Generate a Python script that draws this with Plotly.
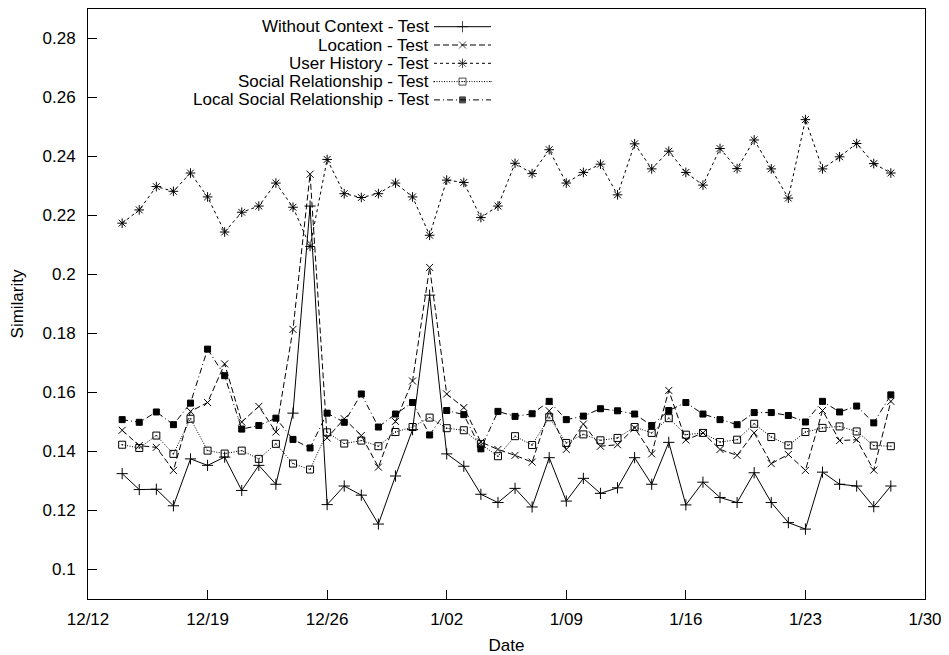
import pandas as pd
import plotly.graph_objects as go

# ---------------- data ----------------
dates = pd.date_range("2011-12-14", "2012-01-28", freq="D")

without_context = [
    0.1325, 0.1271, 0.1272, 0.1216, 0.1375, 0.1353, 0.1381, 0.1268, 0.1353, 0.1289,
    0.1530, 0.2232, 0.1220, 0.1283, 0.1252, 0.1154, 0.1317, 0.1474, 0.1930, 0.1392,
    0.1350, 0.1255, 0.1227, 0.1275, 0.1212, 0.1379, 0.1232, 0.1309, 0.1258, 0.1277,
    0.1379, 0.1289, 0.1431, 0.1219, 0.1296, 0.1244, 0.1227, 0.1328, 0.1227, 0.1159,
    0.1137, 0.1330, 0.1289, 0.1283, 0.1213, 0.1283,
]
location = [
    0.1472, 0.1420, 0.1414, 0.1336, 0.1536, 0.1566, 0.1697, 0.1500, 0.1553, 0.1466,
    0.1814, 0.2340, 0.1446, 0.1511, 0.1454, 0.1347, 0.1502, 0.1639, 0.2024, 0.1595,
    0.1549, 0.1432, 0.1407, 0.1387, 0.1364, 0.1538, 0.1407, 0.1493, 0.1418, 0.1423,
    0.1480, 0.1392, 0.1607, 0.1439, 0.1463, 0.1407, 0.1387, 0.1463, 0.1359, 0.1390,
    0.1336, 0.1539, 0.1437, 0.1440, 0.1337, 0.1570,
]
user_history = [
    0.2174, 0.2219, 0.2298, 0.2282, 0.2344, 0.2263, 0.2144, 0.2211, 0.2232, 0.2310,
    0.2228, 0.2095, 0.2390, 0.2274, 0.2261, 0.2274, 0.2310, 0.2263, 0.2133, 0.2320,
    0.2312, 0.2193, 0.2232, 0.2377, 0.2342, 0.2423, 0.2310, 0.2346, 0.2374, 0.2270,
    0.2443, 0.2358, 0.2418, 0.2346, 0.2303, 0.2427, 0.2359, 0.2456, 0.2358, 0.2259,
    0.2525, 0.2358, 0.2399, 0.2444, 0.2376, 0.2344,
]
social_relationship = [
    0.1423, 0.1412, 0.1454, 0.1392, 0.1511, 0.1403, 0.1393, 0.1403, 0.1375, 0.1426,
    0.1359, 0.1339, 0.1465, 0.1427, 0.1437, 0.1418, 0.1466, 0.1483, 0.1515, 0.1479,
    0.1472, 0.1425, 0.1384, 0.1452, 0.1422, 0.1516, 0.1429, 0.1458, 0.1438, 0.1446,
    0.1483, 0.1463, 0.1513, 0.1457, 0.1463, 0.1432, 0.1440, 0.1494, 0.1449, 0.1421,
    0.1466, 0.1480, 0.1485, 0.1468, 0.1420, 0.1418,
]
local_social_relationship = [
    0.1508, 0.1499, 0.1534, 0.1491, 0.1564, 0.1747, 0.1657, 0.1476, 0.1488, 0.1513,
    0.1441, 0.1412, 0.1530, 0.1499, 0.1595, 0.1483, 0.1527, 0.1566, 0.1456, 0.1539,
    0.1525, 0.1409, 0.1536, 0.1519, 0.1528, 0.1570, 0.1508, 0.1520, 0.1545, 0.1538,
    0.1527, 0.1488, 0.1539, 0.1566, 0.1527, 0.1508, 0.1491, 0.1532, 0.1532, 0.1522,
    0.1500, 0.1570, 0.1534, 0.1554, 0.1497, 0.1592,
]

series_names = [
    "Without Context - Test",
    "Location - Test",
    "User History - Test",
    "Social Relationship - Test",
    "Local Social Relationship - Test",
]
x_tick_vals = ["2011-12-12", "2011-12-19", "2011-12-26", "2012-01-02",
               "2012-01-09", "2012-01-16", "2012-01-23", "2012-01-30"]
x_tick_text = ["12/12", "12/19", "12/26", "1/02", "1/09", "1/16", "1/23", "1/30"]
y_tick_vals = [0.10, 0.12, 0.14, 0.16, 0.18, 0.20, 0.22, 0.24, 0.26, 0.28]
y_tick_text = ["0.1", "0.12", "0.14", "0.16", "0.18", "0.2", "0.22", "0.24", "0.26", "0.28"]

# ---------------- styles ----------------
FONT = "Liberation Sans, Arial, Helvetica, sans-serif"
FS = 17
VIEW_W, VIEW_H = 949, 655
BODY = 8                         # default page margin around the plot div
W, H = VIEW_W - BODY, VIEW_H - BODY
L, R, T, B = 88, 925, 9, 599     # plot-area box in screen pixels

styles = [
    dict(dash="solid", symbol="cross-thin-open", size=8),
    dict(dash="6px,3px", symbol="x-thin-open", size=7),
    dict(dash="3px,3px", symbol="asterisk-open", size=8),
    dict(dash="1px,1.5px", symbol="square-open-dot", size=7),
    dict(dash="6px,3px,1px,3px", symbol="square", size=6),
]
all_series = [without_context, location, user_history,
              social_relationship, local_social_relationship]

fig = go.Figure()
for name, vals, st in zip(series_names, all_series, styles):
    fig.add_trace(go.Scatter(
        x=dates, y=vals, name=name, mode="lines+markers",
        line=dict(color="black", width=1, dash=st["dash"]),
        marker=dict(symbol=st["symbol"], size=st["size"], color="black",
                    line=dict(color="black", width=1)),
        showlegend=False,
    ))

# ---------------- gnuplot-style key (text right-aligned, sample on the right) ----------------
key_row0, key_dy = 26.7, 18.3
key_text_x, key_x0, key_x1 = 431, 434, 491
for i, (name, st) in enumerate(zip(series_names, styles)):
    yy = key_row0 + key_dy * i
    fig.add_trace(go.Scatter(
        x=[key_x0, (key_x0 + key_x1) / 2, key_x1], y=[yy, yy, yy],
        xaxis="x2", yaxis="y2", mode="lines+markers",
        line=dict(color="black", width=1, dash=st["dash"]),
        marker=dict(symbol=st["symbol"], size=[0, st["size"], 0], color="black",
                    line=dict(color="black", width=[0, 1, 0])),
        showlegend=False, hoverinfo="skip",
    ))
    fig.add_annotation(x=key_text_x, y=yy, xref="x2", yref="y2", text=name,
                       showarrow=False, xanchor="right", yanchor="middle",
                       font=dict(family=FONT, size=FS, color="black"))

axis_common = dict(showline=True, linecolor="black", linewidth=1, mirror=True,
                   ticks="inside", ticklen=9, tickwidth=1, tickcolor="black",
                   showgrid=False, zeroline=False,
                   tickfont=dict(family=FONT, size=FS, color="black"))

fig.update_layout(
    width=W, height=H,
    margin=dict(l=L - BODY, r=VIEW_W - R, t=T - BODY, b=VIEW_H - B),
    paper_bgcolor="white", plot_bgcolor="white",
    font=dict(family=FONT, size=FS, color="black"),
    xaxis=dict(type="date", range=["2011-12-12", "2012-01-30"],
               tickvals=x_tick_vals, ticktext=x_tick_text,
               ticklabelstandoff=5,
               title=dict(text="Date", standoff=10,
                          font=dict(family=FONT, size=FS, color="black")),
               **axis_common),
    yaxis=dict(range=[0.09, 0.29], tickvals=y_tick_vals, ticktext=y_tick_text,
               ticklabelstandoff=8,
               title=dict(text="Similarity", standoff=14,
                          font=dict(family=FONT, size=FS, color="black")),
               **axis_common),
    xaxis2=dict(overlaying="x", range=[L, R], visible=False, fixedrange=True),
    yaxis2=dict(overlaying="y", range=[B, T], visible=False, fixedrange=True),
    showlegend=False,
)

fig.write_html("out.html")
